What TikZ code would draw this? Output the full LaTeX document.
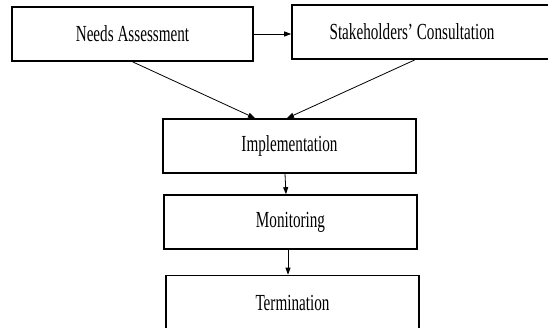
\documentclass[tikz,border=0pt]{standalone}
\usepackage{fontspec}
\setmainfont{Liberation Serif}
\usetikzlibrary{positioning, arrows.meta, calc}

% narrow the label text like the original figure
\newcommand{\stagetext}[1]{\scalebox{0.66}[1]{#1}}

\begin{document}
\begin{tikzpicture}[
                x=1pt, y=-1pt,
                >={Triangle[length=7pt, width=5pt]},
                stagebox/.style={draw, line width=1.6pt, rectangle, minimum height=54pt, inner sep=0pt, font=\fontsize{23}{27}\selectfont},
                flow/.style={->, line width=0.8pt},
            ]
                \useasboundingbox (0,0) rectangle (548,328);

                % Draw the two starting stages
                \node[stagebox, minimum width=241pt] (needs) at (132.5,34) {\stagetext{Needs Assessment}};
                \node[stagebox, minimum width=258pt] (stake) at (421,32) {\hspace*{-18pt}\stagetext{Stakeholders’ Consultation}};

                % Draw the stages below
                \foreach \name / \x / \y / \txt in {impl/289.5/146/Implementation, mon/290.5/222/Monitoring, term/292.5/302.5/Termination}
                    \node[stagebox, minimum width=253pt] (\name) at (\x,\y) {\stagetext{\txt}};

                % Connect the stages
                \draw[flow] (needs.east) -- (stake.west |- needs.east);
                \draw[flow] (needs.south) -- ($(impl.north)+(-34.5,0)$);
                \draw[flow] ($(stake.south)+(-6,0)$) -- ($(impl.north)+(-2.5,0)$);
                \draw[flow] ($(impl.south)+(-4.5,0)$) -- ($(mon.north)+(-4.5,0)$);
                \draw[flow] ($(mon.south)+(-2.5,0)$) -- ($(term.north)+(-4.5,0)$);
            \end{tikzpicture}
\end{document}
